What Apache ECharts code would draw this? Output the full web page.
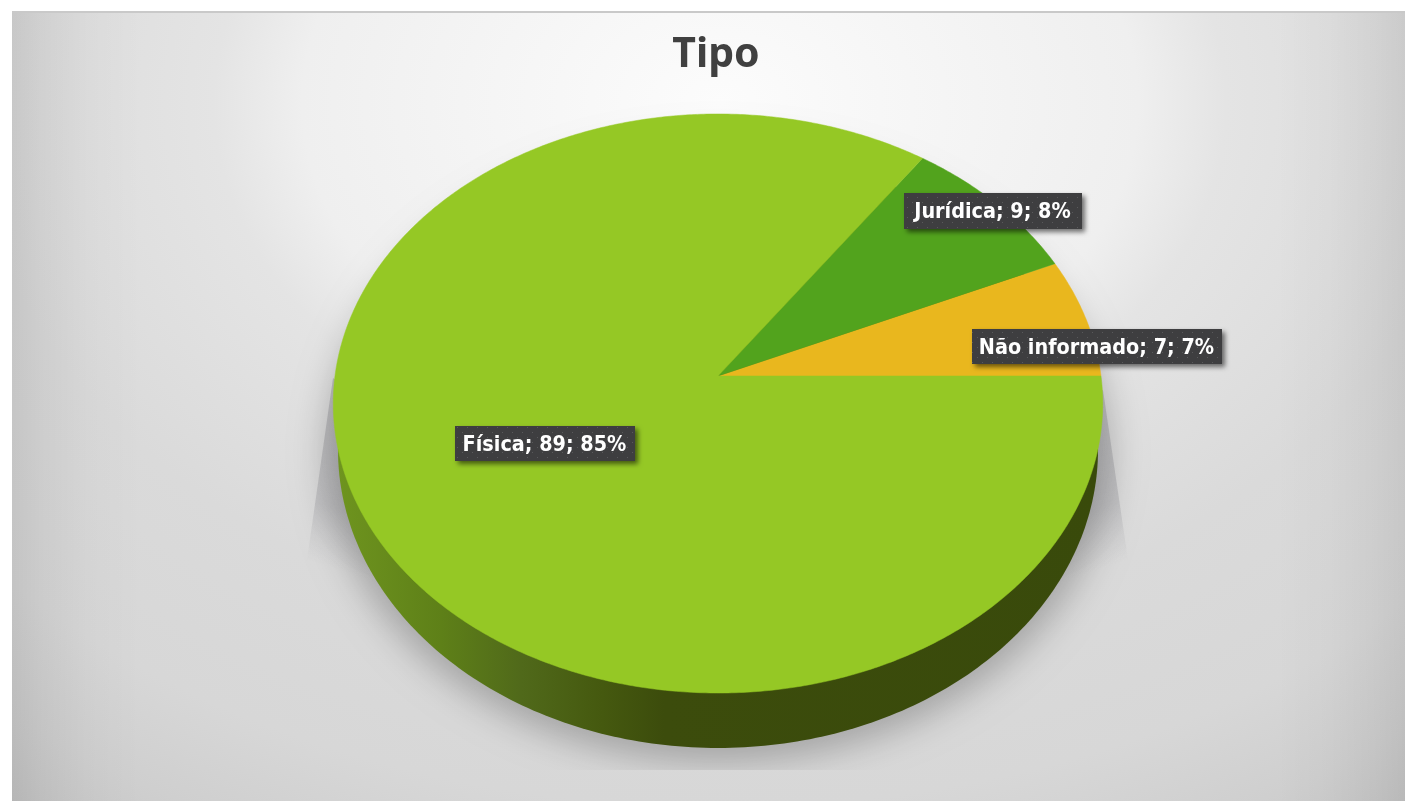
<!DOCTYPE html>
<html>
<head>
<meta charset="utf-8">
<title>Tipo</title>
<script src="https://cdn.jsdelivr.net/npm/echarts@6/dist/echarts.min.js"></script>
<style>
    html, body { margin: 0; padding: 0; background: #fff; }
    #fundo {
        position: absolute; left: 12px; top: 11px; width: 1393px; height: 790px;
        box-sizing: border-box; border-top: 2px solid #c9c9c9;
        background:
            linear-gradient(90deg, rgba(0,0,0,0.09) 0, rgba(0,0,0,0.055) 30px, rgba(0,0,0,0.02) 75px, rgba(0,0,0,0) 130px, rgba(0,0,0,0) 1263px, rgba(0,0,0,0.02) 1318px, rgba(0,0,0,0.05) 1363px, rgba(0,0,0,0.08) 1393px),
            radial-gradient(ellipse 1100px 800px at 708px 90px, #fcfcfc 0%, #efefef 38%, #e4e4e4 46%, #dadada 68%, #d7d7d7 88%, #cfcfcf 100%, #c6c6c6 110%);
    }
    #pizza { position: absolute; left: 0; top: 0; width: 1405px; height: 801px; }
</style>
</head>
<body>
<div id="fundo"></div>
<div id="pizza"></div>
<script>
    const categorias = ['Não informado', 'Jurídica', 'Física'];
    const valores = [7, 9, 89];
    const percentuais = [7, 8, 85];
    const cores = ['#e9b71e', '#52a31d', '#95c825'];

    // centro dos rotulos na tela, mesma ordem das categorias
    const caixas = [
        { x: 1097, y: 346.5, w: 250, h: 35 },
        { x: 993, y: 211, w: 178, h: 36 },
        { x: 545, y: 443.5, w: 180, h: 35 }
    ];

    const total = valores.reduce((a, b) => a + b, 0);

    // disco de cima em perspectiva
    const CX = 718, CY = 376, R = 383, H = 286.9, P = 0.095;
    function topo(graus) {
        const a = graus * Math.PI / 180;
        const u = Math.cos(a), v = Math.sin(a);
        const d = 1 + P * v;
        return [CX + R * u / d, CY - H * v / d];
    }
    // disco de baixo, forma a parede lateral
    function base(graus, folga, dx) {
        const a = graus * Math.PI / 180;
        return [718 + (dx || 0) + (380 + (folga || 0)) * Math.cos(a), 450 - (298 + (folga || 0)) * Math.sin(a)];
    }
    function contorno(folga, dx) {
        const pts = [];
        for (let g = 0; g < 360; g += 1) pts.push(base(g, folga, dx));
        return pts;
    }

    function cunha(pts, de, ate) {
        return {
            type: 'polygon',
            shape: { points: pts },
            style: {
                fill: {
                    type: 'linear', global: true, x: de[0], y: de[1], x2: ate[0], y2: ate[1],
                    colorStops: [
                        { offset: 0, color: 'rgba(140,140,146,0)' },
                        { offset: 0.3, color: 'rgba(140,140,146,0.3)' },
                        { offset: 1, color: 'rgba(140,140,146,0.42)' }
                    ]
                }
            }
        };
    }

    function desenhaSombra() {
        const fora = 3000; // a forma fica fora da tela, so a sombra aparece
        return {
            type: 'group',
            children: [
                cunha([[333, 378], [307, 560], [400, 590], [500, 500]], [307, 560], [367, 374]),
                cunha([[1103, 390], [1128, 560], [1036, 590], [936, 500]], [1128, 560], [1068, 374]),
                {
                    type: 'polygon',
                    shape: { points: contorno(12, -fora) },
                    clipPath: { type: 'rect', shape: { x: -fora - 500, y: 0, width: fora + 2000, height: 770 } },
                    style: { fill: '#000', shadowBlur: 34, shadowColor: 'rgba(0,0,0,0.24)', shadowOffsetX: fora, shadowOffsetY: 2 }
                }
            ]
        };
    }

    function desenhaParede() {
        return {
            type: 'polygon',
            shape: { points: contorno() },
            style: {
                fill: {
                    type: 'linear', global: true, x: 333, y: 0, x2: 1103, y2: 0,
                    colorStops: [
                        { offset: 0, color: '#6f951f' },
                        { offset: 0.14, color: '#5e8018' },
                        { offset: 0.245, color: '#50691a' },
                        { offset: 0.35, color: '#45590f' },
                        { offset: 0.43, color: '#3c4c0c' },
                        { offset: 1, color: '#394a0b' }
                    ]
                }
            }
        };
    }

    function desenhaFatia(params, api) {
        const i = api.value(0);
        let acum = 0;
        for (let k = 0; k < i; k++) acum += valores[k];
        const ini = acum / total * 360;
        const fim = (acum + api.value(1)) / total * 360;
        const pts = [[CX, CY]];
        for (let g = ini; g < fim; g += 0.5) pts.push(topo(g));
        pts.push(topo(fim));
        return {
            type: 'polygon',
            shape: { points: pts },
            style: { fill: cores[i], stroke: cores[i], lineWidth: 0.5 }
        };
    }

    // textura de pontinhos do fundo dos rotulos
    const tile = document.createElement('canvas');
    tile.width = 10; tile.height = 10;
    const tc = tile.getContext('2d');
    tc.fillStyle = '#3e3e40';
    tc.fillRect(0, 0, 10, 10);
    tc.fillStyle = '#59595b';
    tc.fillRect(2, 2, 1, 1);
    tc.fillRect(7, 7, 1, 1);

    function desenhaRotulo(params, api) {
        const i = api.value(0);
        const c = caixas[i];
        return {
            type: 'group',
            children: [
                {
                    type: 'rect',
                    shape: { x: c.x - c.w / 2, y: c.y - c.h / 2, width: c.w, height: c.h },
                    style: {
                        fill: { image: tile, repeat: 'repeat' },
                        shadowBlur: 5, shadowOffsetX: 3, shadowOffsetY: 3, shadowColor: 'rgba(0,0,0,0.55)'
                    }
                },
                {
                    type: 'text',
                    x: c.x - 0.5, y: c.y + 1.5,
                    style: {
                        text: categorias[i] + '; ' + api.value(1) + '; ' + percentuais[i] + '%',
                        fill: '#fff',
                        font: 'bold 21.4px "DejaVu Sans Condensed", "DejaVu Sans"',
                        align: 'center', verticalAlign: 'middle'
                    }
                }
            ]
        };
    }

    const linhas = categorias.map((c, i) => [i, valores[i]]);

    const myChart = echarts.init(document.getElementById('pizza'));
    myChart.setOption({
        backgroundColor: 'transparent',
        animation: false,
        title: {
            text: 'Tipo',
            left: 716,
            top: 35,
            padding: 0,
            textAlign: 'center',
            textStyle: { color: '#404040', fontSize: 41, fontWeight: 'bold', fontFamily: '"Noto Sans"' }
        },
        series: [
            { type: 'custom', coordinateSystem: 'none', silent: true, z: 1, data: [[2, valores[2]]], renderItem: desenhaSombra },
            { type: 'custom', coordinateSystem: 'none', silent: true, z: 2, data: [[2, valores[2]]], renderItem: desenhaParede },
            { type: 'custom', coordinateSystem: 'none', silent: true, z: 3, data: linhas, renderItem: desenhaFatia },
            { type: 'custom', coordinateSystem: 'none', silent: true, z: 4, data: linhas, renderItem: desenhaRotulo }
        ]
    });
</script>
</body>
</html>
